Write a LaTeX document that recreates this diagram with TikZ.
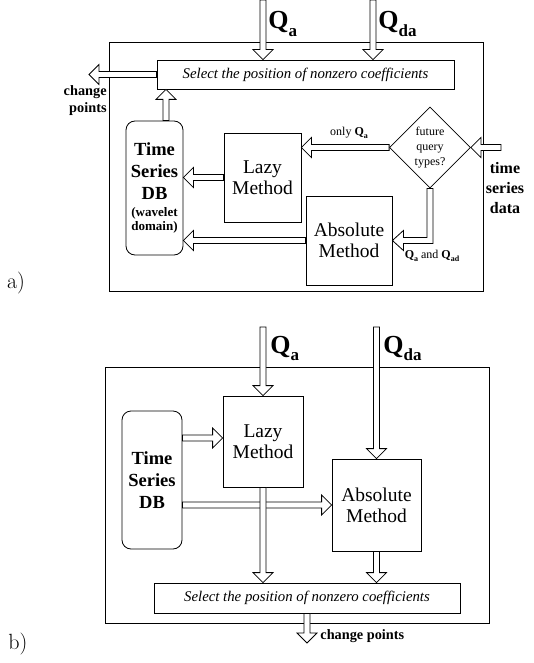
\documentclass[tikz,border=0pt]{standalone}
\usepackage{fontspec}
\newfontfamily\tnr{Liberation Serif}
\usetikzlibrary{calc,shapes.geometric}
\newcommand{\harrow}[2]{\coordinate (hb) at ($(#2)!10pt!(#1)$);
\draw[fill=white] ($(#1)!3pt!90:(#2)$)--($(hb)!3pt!90:(#2)$)--($(hb)!10pt!90:(#2)$)--(#2)--($(hb)!10pt!-90:(#2)$)--($(hb)!3pt!-90:(#2)$)--($(#1)!3pt!-90:(#2)$)--cycle;}
\newcommand{\Qs}[3]{{\fontsize{#1}{#1}\selectfont\bfseries Q\raisebox{-.3em}{\fontsize{#2}{#2}\selectfont #3}}}
\newcommand{\sm}[1]{{\fontsize{13}{13}\selectfont #1}}

\begin{document}
\begin{tikzpicture}[x=1pt,y=-1pt,line width=0.8pt,every node/.style={font=\tnr,align=center,inner sep=0pt},
box/.style={draw,fill=white},meth/.style={box,font=\tnr\fontsize{19.5}{21}\selectfont},
dbbox/.style={box,rounded corners=9pt,font=\tnr\bfseries\fontsize{18.5}{22}\selectfont},
selbox/.style={box,font=\tnr\itshape\fontsize{14.8}{17}\selectfont},lbl/.style={font=\tnr\bfseries\fontsize{14.3}{17}\selectfont}]
\useasboundingbox (0,0) rectangle (534,663);
% a)
\draw (109,42) rectangle (483,291);
\node[selbox,minimum width=297pt,minimum height=29pt] (selA) at (305.5,74.5) {Select the position of nonzero coefficients};
\node[dbbox,minimum width=57pt,minimum height=134pt] (dbA) at (154.5,188) {Time\\Series\\DB\\[-5pt]\sm{(wavelet}\\[-8pt]\sm{domain)}};
\node[meth,minimum width=77pt,minimum height=89pt] (lazyA) at (262.5,177.5) {Lazy\\Method};
\node[meth,minimum width=86pt,minimum height=89pt] (absA) at (349,240.5) {Absolute\\Method};
\node[draw,diamond,minimum width=81pt,minimum height=81pt,font=\tnr\fontsize{12}{15}\selectfont] (diaA) at (430,147.5) {future\\query\\types?};
\coordinate (qaA) at (263,0);\coordinate (qdaA) at (373,0);\coordinate (cpA) at (89,74.5);
\coordinate (tsA) at (501,147.5);\coordinate (upA) at (166,0);
\harrow{qaA}{selA.north -| qaA}\harrow{qdaA}{selA.north -| qdaA}
\harrow{selA.west}{cpA}\harrow{dbA.north -| upA}{selA.south -| upA}
\harrow{tsA}{diaA.east}\harrow{diaA.west}{lazyA.east |- diaA.west}
\harrow{lazyA.west}{dbA.east |- lazyA.west}\harrow{absA.west}{dbA.east |- absA.west}
\coordinate (elb) at (diaA.south |- absA.east);
\draw[fill=white] ($(diaA.south)+(-3,0)$)--($(diaA.south)+(3,0)$)--($(elb)+(3,3)$)--($(absA.east)+(11,3)$)--($(absA.east)+(11,10)$)--(absA.east)--($(absA.east)+(11,-10)$)--($(absA.east)+(11,-3)$)--($(elb)+(-3,-3)$)--cycle;
\node[anchor=base west] (qaLabA) at (268,29) {\Qs{26}{17}{a}};
\node[anchor=base west] (qdaLabA) at (378,29) {\Qs{26}{17}{da}};
\node[font=\tnr\fontsize{12}{12}\selectfont] (onlyA) at (349,133) {only \Qs{12}{8}{a}};
\node[font=\tnr\fontsize{12}{12}\selectfont] (bothA) at (432,256) {\Qs{12}{8}{a} and \Qs{12}{8}{ad}};
\node[lbl,anchor=east,align=right] (cpLabA) at (107,101) {change\\points};
\node[lbl,font=\tnr\bfseries\fontsize{16}{20}\selectfont] (tsLabA) at (505,188) {time\\series\\data};
\node[font=\rmfamily\fontsize{22}{22}\selectfont] (partA) at (16,283.5) {a)};
% b)
\draw (105,367) rectangle (489,623);
\node[meth,minimum width=80pt,minimum height=91pt] (lazyB) at (263,441.5) {Lazy\\Method};
\node[meth,minimum width=89pt,minimum height=92pt] (absB) at (376.5,505) {Absolute\\Method};
\node[dbbox,minimum width=60pt,minimum height=138pt] (dbB) at (152,480) {Time\\Series\\DB};
\node[selbox,minimum width=306pt,minimum height=30pt] (selB) at (307,598) {Select the position of nonzero coefficients};
\coordinate (qaB) at (263,327);\coordinate (qdaB) at (376.5,327);\coordinate (cpB) at (307,643);
\coordinate (inL) at ($(lazyB.west)+(0,-3.5)$);
\harrow{qaB}{lazyB.north}\harrow{qdaB}{absB.north}
\harrow{dbB.east |- inL}{inL}\harrow{dbB.east |- absB.west}{absB.west}
\harrow{lazyB.south}{selB.north -| lazyB.south}\harrow{absB.south}{selB.north -| absB.south}
\harrow{selB.south}{cpB}
\node[anchor=base west] (qaLabB) at (270,353) {\Qs{26}{17}{a}};
\node[anchor=base west] (qdaLabB) at (383,353) {\Qs{26}{17}{da}};
\node[lbl,anchor=west] (cpLabB) at (320,636) {change points};
\node[font=\rmfamily\fontsize{22}{22}\selectfont] (partB) at (18,644) {b)};
\end{tikzpicture}
\end{document}
